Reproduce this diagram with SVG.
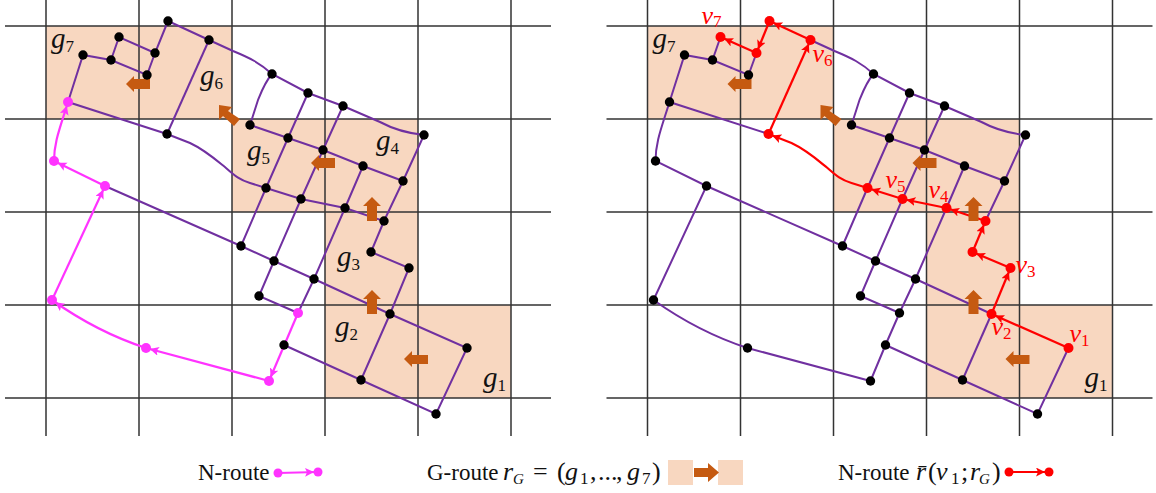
<svg xmlns="http://www.w3.org/2000/svg" width="1156" height="493" viewBox="0 0 1156 493">
<style>
.cell{fill:#f8d7c0}
.grid{stroke:#333;stroke-width:1.5;fill:none}
.e{stroke:#7030a0;stroke-width:2;fill:none}
.m{stroke:#ff33ff;stroke-width:2.2;fill:none;marker-end:url(#hm)}
.r{stroke:#ff0000;stroke-width:2.2;fill:none;marker-end:url(#hr)}
.dot{fill:#000}
.dm{fill:#ff33ff}
.dr{fill:#ff0000}
.ga{fill:#c55a11}
text{font-family:"Liberation Serif","Times New Roman",serif}
.lg{font-style:italic;font-size:29px;fill:#111}
.lv{font-style:italic;font-size:26px;fill:#ff0000}
.s{font-style:normal;font-size:17px}
.leg{font-size:23px;fill:#111}
.i{font-style:italic;font-size:26px}
.sb{font-size:15px;font-style:italic}
.sn{font-size:17px}
.p{font-size:26px}
</style>
<defs>
<marker id="hm" markerUnits="userSpaceOnUse" markerWidth="14" markerHeight="10" refX="13" refY="4.5" orient="auto"><path d="M0 0L9 4.5L0 9L2 4.5z" fill="#ff33ff"/></marker>
<marker id="hr" markerUnits="userSpaceOnUse" markerWidth="14" markerHeight="10" refX="13" refY="4.5" orient="auto"><path d="M0 0L9 4.5L0 9L2 4.5z" fill="#ff0000"/></marker>
</defs>

<g id="left-panel">
<g id="left-cells">
<rect class="cell" x="418" y="305" width="93" height="93"/>
<rect class="cell" x="325" y="305" width="93" height="93"/>
<rect class="cell" x="325" y="212" width="93" height="93"/>
<rect class="cell" x="325" y="119" width="93" height="93"/>
<rect class="cell" x="232" y="119" width="93" height="93"/>
<rect class="cell" x="139" y="26" width="93" height="93"/>
<rect class="cell" x="46" y="26" width="93" height="93"/>
</g>
<path class="grid" d="M46 0V436M139 0V436M232 0V436M325 0V436M418 0V436M511 0V436M5 26H551M5 119H551M5 212H551M5 305H551M5 398H551"/>
<g id="left-connectors">
<path class="e" d="M168 21L209 40L233 51C250 58 260 63 272 74L308 93L343 106L380 122C393 129 405 133 424 135"/>
<path class="e" d="M168 21L155 53L147 75L111 60L83 55L68 102L167 134L190 143C205 150 215 159 226 168C235 176 240 180 250 183L266 188L301 199L345 208L384 221L371 252L409 268L390 314L361 380"/>
<path class="e" d="M155 53L119 37L111 60"/>
<path class="e" d="M209 40L167 134"/>
<path class="e" d="M272 74C265 82 262 90 258 100L250 125L288 138L323 150L363 166L403 181"/>
<path class="e" d="M424 135L403 181L384 221"/>
<path class="e" d="M308 93L288 138L266 188L241 246"/>
<path class="e" d="M343 106L323 150L301 199L274 261L259 296L298 313"/>
<path class="e" d="M363 166L345 208L314 279L298 313"/>
<path class="e" d="M105 186L241 246L274 261L314 279L390 314L467 348L436 414L361 380L284 345"/>
<path class="m" d="M298 313L269 381"/>
<path class="m" d="M269 381L146 348"/>
<path class="m" d="M146 348Q97 332 52 300"/>
<path class="m" d="M52 300L105 186"/>
<path class="m" d="M105 186L54 161"/>
<path class="m" d="M54 161C54 142 60 128 68 102"/>
</g>
<g id="left-g-route">
<path class="ga" d="M404 359L412 351V355H428V364H412V367z"/>
<path class="ga" d="M372 290L381 299H377V314H367V299H363z"/>
<path class="ga" d="M372 197L381 206H377V221H367V206H363z"/>
<path class="ga" d="M311 163L319 155V158H335V168H319V171z"/>
<path class="ga" d="M219 105L232 107L228 111L240 119L234 126L223 116L219 120z"/>
<path class="ga" d="M126 84L134 76V79H150V89H134V92z"/>
</g>
<g id="L1"><circle class="dot" cx="168" cy="21" r="4.7"/></g>
<g id="L2"><circle class="dot" cx="209" cy="40" r="4.7"/></g>
<g id="L3"><circle class="dot" cx="272" cy="74" r="4.7"/></g>
<g id="L4"><circle class="dot" cx="308" cy="93" r="4.7"/></g>
<g id="L5"><circle class="dot" cx="343" cy="106" r="4.7"/></g>
<g id="L6"><circle class="dot" cx="424" cy="135" r="4.7"/></g>
<g id="L7"><circle class="dot" cx="155" cy="53" r="4.7"/></g>
<g id="L8"><circle class="dot" cx="119" cy="37" r="4.7"/></g>
<g id="L9"><circle class="dot" cx="147" cy="75" r="4.7"/></g>
<g id="L10"><circle class="dot" cx="111" cy="60" r="4.7"/></g>
<g id="L11"><circle class="dot" cx="83" cy="55" r="4.7"/></g>
<g id="L12"><circle class="dm" cx="68" cy="102" r="5"/></g>
<g id="L13"><circle class="dot" cx="167" cy="134" r="4.7"/></g>
<g id="L14"><circle class="dm" cx="54" cy="161" r="5"/></g>
<g id="L15"><circle class="dm" cx="105" cy="186" r="5"/></g>
<g id="L16"><circle class="dm" cx="52" cy="300" r="5"/></g>
<g id="L17"><circle class="dm" cx="146" cy="348" r="5"/></g>
<g id="L18"><circle class="dm" cx="269" cy="381" r="5"/></g>
<g id="L19"><circle class="dm" cx="298" cy="313" r="5"/></g>
<g id="L20"><circle class="dot" cx="250" cy="125" r="4.7"/></g>
<g id="L21"><circle class="dot" cx="288" cy="138" r="4.7"/></g>
<g id="L22"><circle class="dot" cx="323" cy="150" r="4.7"/></g>
<g id="L23"><circle class="dot" cx="363" cy="166" r="4.7"/></g>
<g id="L24"><circle class="dot" cx="403" cy="181" r="4.7"/></g>
<g id="L25"><circle class="dot" cx="266" cy="188" r="4.7"/></g>
<g id="L26"><circle class="dot" cx="301" cy="199" r="4.7"/></g>
<g id="L27"><circle class="dot" cx="345" cy="208" r="4.7"/></g>
<g id="L28"><circle class="dot" cx="384" cy="221" r="4.7"/></g>
<g id="L29"><circle class="dot" cx="371" cy="252" r="4.7"/></g>
<g id="L30"><circle class="dot" cx="409" cy="268" r="4.7"/></g>
<g id="L31"><circle class="dot" cx="241" cy="246" r="4.7"/></g>
<g id="L32"><circle class="dot" cx="274" cy="261" r="4.7"/></g>
<g id="L33"><circle class="dot" cx="314" cy="279" r="4.7"/></g>
<g id="L34"><circle class="dot" cx="259" cy="296" r="4.7"/></g>
<g id="L35"><circle class="dot" cx="390" cy="314" r="4.7"/></g>
<g id="L36"><circle class="dot" cx="467" cy="348" r="4.7"/></g>
<g id="L37"><circle class="dot" cx="284" cy="345" r="4.7"/></g>
<g id="L38"><circle class="dot" cx="361" cy="380" r="4.7"/></g>
<g id="L39"><circle class="dot" cx="436" cy="414" r="4.7"/></g>
<text class="lg" x="51" y="48">g<tspan class="s" dy="4">7</tspan></text>
<text class="lg" x="200" y="85">g<tspan class="s" dy="4">6</tspan></text>
<text class="lg" x="247" y="160">g<tspan class="s" dy="4">5</tspan></text>
<text class="lg" x="376" y="150">g<tspan class="s" dy="4">4</tspan></text>
<text class="lg" x="337" y="266">g<tspan class="s" dy="4">3</tspan></text>
<text class="lg" x="335" y="336">g<tspan class="s" dy="4">2</tspan></text>
<text class="lg" x="483" y="387">g<tspan class="s" dy="4">1</tspan></text>
</g>

<g id="right-panel" transform="translate(601.5,0)">
<g id="right-cells">
<rect class="cell" x="418" y="305" width="93" height="93"/>
<rect class="cell" x="325" y="305" width="93" height="93"/>
<rect class="cell" x="325" y="212" width="93" height="93"/>
<rect class="cell" x="325" y="119" width="93" height="93"/>
<rect class="cell" x="232" y="119" width="93" height="93"/>
<rect class="cell" x="139" y="26" width="93" height="93"/>
<rect class="cell" x="46" y="26" width="93" height="93"/>
</g>
<path class="grid" d="M46 0V436M139 0V436M232 0V436M325 0V436M418 0V436M511 0V436M5 26H551M5 119H551M5 212H551M5 305H551M5 398H551"/>
<g id="right-connectors">
<path class="e" d="M209 40L233 51C250 58 260 63 272 74L308 93L343 106L380 122C393 129 405 133 424 135"/>
<path class="e" d="M155 53L147 75L111 60L83 55L68 102L167 134"/>
<path class="e" d="M119 37L111 60"/>
<path class="e" d="M272 74C265 82 262 90 258 100L250 125L288 138L323 150L363 166L403 181"/>
<path class="e" d="M424 135L403 181L384 221"/>
<path class="e" d="M308 93L288 138L266 188L241 246"/>
<path class="e" d="M343 106L323 150L301 199L274 261L259 296L298 313"/>
<path class="e" d="M363 166L345 208L314 279L298 313L284 345L269 381L146 348Q97 332 52 300L105 186L54 161C54 142 60 128 68 102"/>
<path class="e" d="M390 314L361 380"/>
<path class="e" d="M105 186L241 246L274 261L314 279L390 314"/>
<path class="e" d="M467 348L436 414L361 380L284 345"/>
<path class="r" d="M467 348L390 314"/>
<path class="r" d="M390 314L409 268"/>
<path class="r" d="M409 268L371 252"/>
<path class="r" d="M371 252L384 221"/>
<path class="r" d="M384 221L345 208"/>
<path class="r" d="M345 208L301 199"/>
<path class="r" d="M301 199L266 188"/>
<path class="r" d="M266 188L250 183C240 180 235 176 226 168C215 159 205 150 190 143L167 134"/>
<path class="r" d="M167 134L209 40"/>
<path class="r" d="M209 40L168 21"/>
<path class="r" d="M168 21L155 53"/>
<path class="r" d="M155 53L119 37"/>
</g>
<g id="right-g-route">
<path class="ga" d="M404 359L412 351V355H428V364H412V367z"/>
<path class="ga" d="M372 290L381 299H377V314H367V299H363z"/>
<path class="ga" d="M372 197L381 206H377V221H367V206H363z"/>
<path class="ga" d="M311 163L319 155V158H335V168H319V171z"/>
<path class="ga" d="M219 105L232 107L228 111L240 119L234 126L223 116L219 120z"/>
<path class="ga" d="M126 84L134 76V79H150V89H134V92z"/>
</g>
<g id="R1"><circle class="dr" cx="168" cy="21" r="5"/></g>
<g id="R2"><circle class="dr" cx="209" cy="40" r="5"/></g>
<g id="R3"><circle class="dot" cx="272" cy="74" r="4.7"/></g>
<g id="R4"><circle class="dot" cx="308" cy="93" r="4.7"/></g>
<g id="R5"><circle class="dot" cx="343" cy="106" r="4.7"/></g>
<g id="R6"><circle class="dot" cx="424" cy="135" r="4.7"/></g>
<g id="R7"><circle class="dr" cx="155" cy="53" r="5"/></g>
<g id="R8"><circle class="dr" cx="119" cy="37" r="5"/></g>
<g id="R9"><circle class="dot" cx="147" cy="75" r="4.7"/></g>
<g id="R10"><circle class="dot" cx="111" cy="60" r="4.7"/></g>
<g id="R11"><circle class="dot" cx="83" cy="55" r="4.7"/></g>
<g id="R12"><circle class="dot" cx="68" cy="102" r="4.7"/></g>
<g id="R13"><circle class="dr" cx="167" cy="134" r="5"/></g>
<g id="R14"><circle class="dot" cx="54" cy="161" r="4.7"/></g>
<g id="R15"><circle class="dot" cx="105" cy="186" r="4.7"/></g>
<g id="R16"><circle class="dot" cx="52" cy="300" r="4.7"/></g>
<g id="R17"><circle class="dot" cx="146" cy="348" r="4.7"/></g>
<g id="R18"><circle class="dot" cx="269" cy="381" r="4.7"/></g>
<g id="R19"><circle class="dot" cx="298" cy="313" r="4.7"/></g>
<g id="R20"><circle class="dot" cx="250" cy="125" r="4.7"/></g>
<g id="R21"><circle class="dot" cx="288" cy="138" r="4.7"/></g>
<g id="R22"><circle class="dot" cx="323" cy="150" r="4.7"/></g>
<g id="R23"><circle class="dot" cx="363" cy="166" r="4.7"/></g>
<g id="R24"><circle class="dot" cx="403" cy="181" r="4.7"/></g>
<g id="R25"><circle class="dr" cx="266" cy="188" r="5"/></g>
<g id="R26"><circle class="dr" cx="301" cy="199" r="5"/></g>
<g id="R27"><circle class="dr" cx="345" cy="208" r="5"/></g>
<g id="R28"><circle class="dr" cx="384" cy="221" r="5"/></g>
<g id="R29"><circle class="dr" cx="371" cy="252" r="5"/></g>
<g id="R30"><circle class="dr" cx="409" cy="268" r="5"/></g>
<g id="R31"><circle class="dot" cx="241" cy="246" r="4.7"/></g>
<g id="R32"><circle class="dot" cx="274" cy="261" r="4.7"/></g>
<g id="R33"><circle class="dot" cx="314" cy="279" r="4.7"/></g>
<g id="R34"><circle class="dot" cx="259" cy="296" r="4.7"/></g>
<g id="R35"><circle class="dr" cx="390" cy="314" r="5"/></g>
<g id="R36"><circle class="dr" cx="467" cy="348" r="5"/></g>
<g id="R37"><circle class="dot" cx="284" cy="345" r="4.7"/></g>
<g id="R38"><circle class="dot" cx="361" cy="380" r="4.7"/></g>
<g id="R39"><circle class="dot" cx="436" cy="414" r="4.7"/></g>
<text class="lg" x="51" y="48">g<tspan class="s" dy="4">7</tspan></text>
<text class="lg" x="483" y="387">g<tspan class="s" dy="4">1</tspan></text>
<text class="lv" x="100" y="24">v<tspan class="s" dy="3">7</tspan></text>
<text class="lv" x="211" y="62">v<tspan class="s" dy="4">6</tspan></text>
<text class="lv" x="284" y="188">v<tspan class="s" dy="4">5</tspan></text>
<text class="lv" x="327" y="198">v<tspan class="s" dy="4">4</tspan></text>
<text class="lv" x="414" y="273">v<tspan class="s" dy="4">3</tspan></text>
<text class="lv" x="390" y="335">v<tspan class="s" dy="4">2</tspan></text>
<text class="lv" x="468" y="342">v<tspan class="s" dy="4">1</tspan></text>
</g>

<g id="legend">
<text class="leg" x="198" y="480">N-route</text>
<g id="legend-n-route"><line class="m" x1="278" y1="473" x2="318" y2="472"/><circle class="dm" cx="278" cy="473" r="4.5"/><circle class="dm" cx="318" cy="472" r="4.5"/></g>
<text class="leg" x="427" y="480">G-route<tspan class="i" x="503">r</tspan><tspan class="sb" x="513" dy="4">G</tspan><tspan class="p" x="533" dy="-4">=</tspan><tspan class="p" x="557">(</tspan><tspan class="i" x="565">g</tspan><tspan class="sn" x="580" dy="4">1</tspan><tspan class="p" x="590" dy="-4">,</tspan><tspan class="p" x="598">...</tspan><tspan class="p" x="616">,</tspan><tspan class="i" x="627">g</tspan><tspan class="sn" x="642" dy="4">7</tspan><tspan class="p" x="652" dy="-4">)</tspan></text>
<g id="legend-g-route"><rect class="cell" x="668" y="460" width="25" height="25"/><rect class="cell" x="718" y="460" width="25" height="25"/><path class="ga" d="M694 468H708V463L719 472.500L708 482V477H694z"/></g>
<text class="leg" x="838" y="480">N-route<tspan class="i" x="916">r̄</tspan><tspan class="p" x="928">(</tspan><tspan class="i" x="936">v</tspan><tspan class="sn" x="951" dy="4">1</tspan><tspan class="p" x="961" dy="-4">;</tspan><tspan class="i" x="970">r</tspan><tspan class="sb" x="979" dy="4">G</tspan><tspan class="p" x="992" dy="-4">)</tspan></text>
<g id="legend-n-route-bar"><line class="r" x1="1009" y1="472" x2="1049" y2="472"/><circle class="dr" cx="1009" cy="472" r="4.5"/><circle class="dr" cx="1049" cy="472" r="4.5"/></g>
</g>
</svg>
